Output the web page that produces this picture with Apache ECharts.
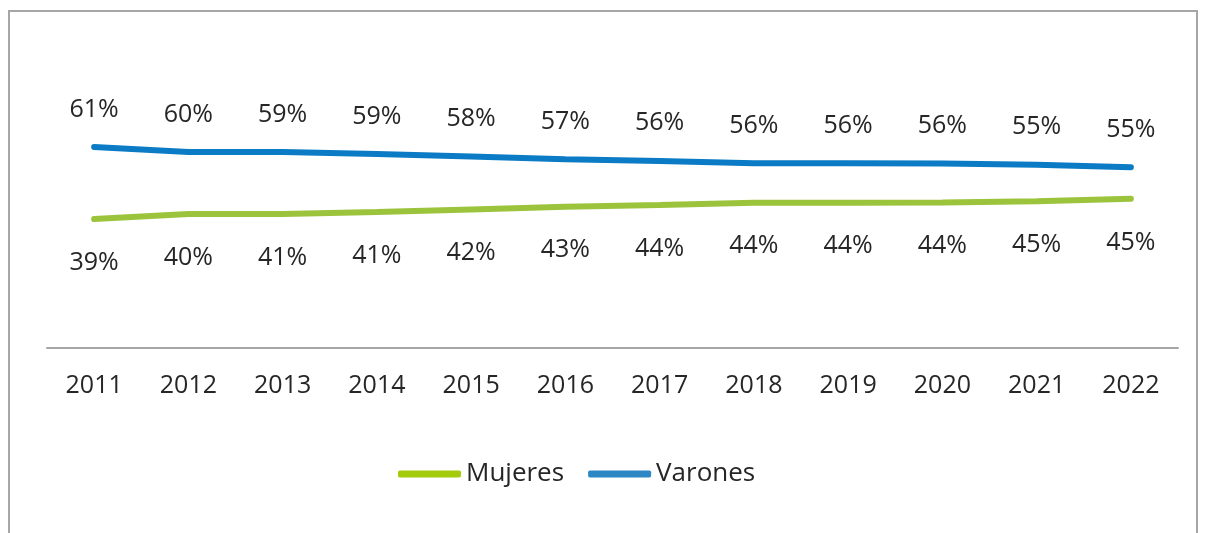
<!DOCTYPE html>
<html>
<head>
<meta charset="utf-8">
<script src="https://cdn.jsdelivr.net/npm/echarts@6/dist/echarts.min.js"></script>
<style>
  html, body { margin: 0; padding: 0; background: #fff; }
  #chart { width: 1208px; height: 533px; }
</style>
</head>
<body>
<div id="chart"></div>
<script>
// años del eje x
const years = ['2011', '2012', '2013', '2014', '2015', '2016', '2017', '2018', '2019', '2020', '2021', '2022'];
// porcentajes estimados de la posición de las líneas
const mujeres = [39.1, 40.6, 40.6, 41.2, 42.0, 42.8, 43.3, 44.0, 44.0, 44.1, 44.5, 45.2];
const varones = [60.9, 59.4, 59.4, 58.8, 58.0, 57.2, 56.7, 56.0, 56.0, 55.9, 55.5, 54.8];
// etiquetas tal como aparecen en el gráfico
const mujeresLabels = ['39%', '40%', '41%', '41%', '42%', '43%', '44%', '44%', '44%', '44%', '45%', '45%'];
const varonesLabels = ['61%', '60%', '59%', '59%', '58%', '57%', '56%', '56%', '56%', '56%', '55%', '55%'];

const chart = echarts.init(document.getElementById('chart'));
const font = '"Open Sans", sans-serif';
const textColor = '#262626';

chart.setOption({
  animation: false,
  graphic: [{
    type: 'rect',
    shape: { x: 9, y: 11, width: 1188, height: 600 },
    style: { fill: 'none', stroke: '#a6a6a6', lineWidth: 2 },
    silent: true
  }],
  grid: { left: 47, right: 30, top: 18, bottom: 185 },
  legend: {
    left: 393,
    top: 456,
    itemWidth: 63,
    itemHeight: 7,
    itemGap: 24,
    textStyle: { fontFamily: font, fontSize: 26, color: textColor },
    data: [
      { name: 'Mujeres', icon: 'roundRect', itemStyle: { color: '#a4cc0c' } },
      { name: 'Varones', icon: 'roundRect', itemStyle: { color: '#2e86c4' } }
    ]
  },
  xAxis: {
    type: 'category',
    data: years,
    boundaryGap: true,
    axisLine: { lineStyle: { color: '#a6a6a6', width: 2 } },
    axisTick: { show: false },
    axisLabel: { fontFamily: font, fontSize: 25, color: textColor, margin: 25 }
  },
  yAxis: {
    type: 'value',
    min: 0,
    max: 100,
    show: false,
    splitLine: { show: false }
  },
  series: [
    {
      name: 'Mujeres',
      type: 'line',
      data: mujeres,
      symbol: 'circle',
      symbolSize: 0.1,
      lineStyle: { color: '#9bc43c', width: 6, cap: 'round' },
      itemStyle: { color: '#9bc43c' },
      label: {
        show: true,
        position: 'bottom',
        distance: 31,
        fontFamily: font,
        fontSize: 25,
        color: textColor,
        formatter: (p) => mujeresLabels[p.dataIndex]
      }
    },
    {
      name: 'Varones',
      type: 'line',
      data: varones,
      symbol: 'circle',
      symbolSize: 0.1,
      lineStyle: { color: '#0a7bc4', width: 6, cap: 'round' },
      itemStyle: { color: '#0a7bc4' },
      label: {
        show: true,
        position: 'top',
        distance: 25,
        fontFamily: font,
        fontSize: 25,
        color: textColor,
        formatter: (p) => varonesLabels[p.dataIndex]
      }
    }
  ]
});
</script>
</body>
</html>
